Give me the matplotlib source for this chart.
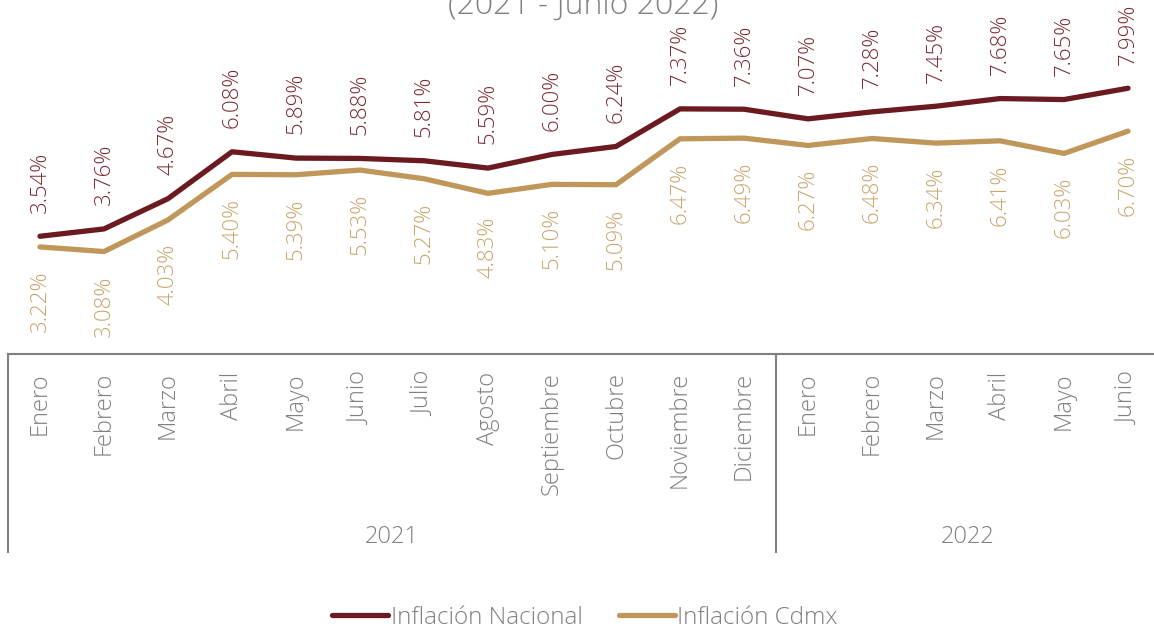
import matplotlib
matplotlib.use("Agg")
import matplotlib.pyplot as plt

meses = ["Enero", "Febrero", "Marzo", "Abril", "Mayo", "Junio", "Julio", "Agosto",
         "Septiembre", "Octubre", "Noviembre", "Diciembre",
         "Enero", "Febrero", "Marzo", "Abril", "Mayo", "Junio"]
anios = ["2021", "2022"]
meses_por_anio = [12, 6]
nacional = [3.54, 3.76, 4.67, 6.08, 5.89, 5.88, 5.81, 5.59, 6.00, 6.24, 7.37, 7.36,
            7.07, 7.28, 7.45, 7.68, 7.65, 7.99]
cdmx = [3.22, 3.08, 4.03, 5.40, 5.39, 5.53, 5.27, 4.83, 5.10, 5.09, 6.47, 6.49,
        6.27, 6.48, 6.34, 6.41, 6.03, 6.70]

plt.rcParams['font.family'] = ['Open Sans', 'DejaVu Sans']
plt.rcParams['font.weight'] = 300

c_nac = "#6B1A20"
c_cdmx = "#C0975A"
c_nac_txt = "#7A2B32"
c_cdmx_txt = "#C9A56E"
gris = "#808080"

fig = plt.figure(figsize=(11.54, 6.28), dpi=100)
ax = fig.add_axes([8 / 1154, 274 / 628, 1152 / 1154, 354 / 628])

x = list(range(len(meses)))
ax.plot(x, nacional, color=c_nac, lw=3.8, solid_capstyle='round', label="Inflación Nacional")
ax.plot(x, cdmx, color=c_cdmx, lw=3.8, solid_capstyle='round', label="Inflación Cdmx")

for i, v in enumerate(nacional):
    ax.annotate(f"{v:.2f}%", (i, v), xytext=(0, 17), textcoords='offset points',
                rotation=90, ha='center', va='bottom', fontsize=16, color=c_nac_txt)
for i, v in enumerate(cdmx):
    ax.annotate(f"{v:.2f}%", (i, v), xytext=(0, -17), textcoords='offset points',
                rotation=90, ha='center', va='top', fontsize=16, color=c_cdmx_txt)

ax.set_xlim(-0.5, len(meses) - 0.5)
ax.set_ylim(0, 354 / 33.26)
ax.set_xticks(x)
ax.set_xticklabels(meses, rotation=90, fontsize=17, color=gris)
ax.tick_params(axis='x', length=0, pad=13)
ax.set_yticks([])
for s in ['top', 'right', 'left']:
    ax.spines[s].set_visible(False)
ax.spines['bottom'].set_color(gris)
ax.spines['bottom'].set_linewidth(1.5)

# separadores y etiquetas de año
tr = ax.get_xaxis_transform()
inicio = -0.5
ax.plot([inicio, inicio], [0, -198 / 354], transform=tr, color=gris, lw=1.5, clip_on=False)
for anio, n in zip(anios, meses_por_anio):
    fin = inicio + n
    ax.plot([fin, fin], [0, -198 / 354], transform=tr, color=gris, lw=1.5, clip_on=False)
    ax.text((inicio + fin) / 2, -183 / 354, anio, transform=tr, ha='center', va='center',
            fontsize=17, color=gris)
    inicio = fin

fig.text(0.505, 1 - 14 / 628, "(2021 - Junio 2022)", ha='center', va='baseline',
         fontsize=23, color=gris)

leg = fig.legend(loc='lower center', bbox_to_anchor=(0.507, -0.038), ncol=2, frameon=False,
                 fontsize=17.5, handlelength=2.3, handletextpad=0.1, columnspacing=1.5)
for t in leg.get_texts():
    t.set_color(gris)

fig.savefig("out.png", dpi=100)
